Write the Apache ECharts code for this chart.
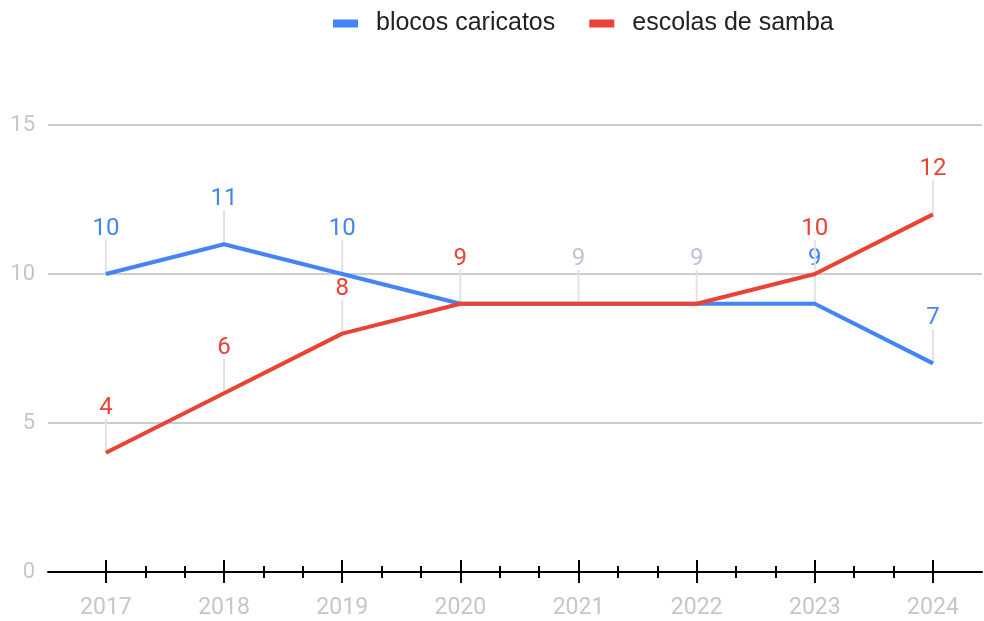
<!DOCTYPE html>
<html>
<head>
<meta charset="utf-8">
<title>blocos caricatos x escolas de samba</title>
<script src="https://cdn.jsdelivr.net/npm/echarts@6/dist/echarts.min.js"></script>
<style>
  html, body { margin: 0; padding: 0; background: #fff; }
  #main { width: 984px; height: 621px; }
</style>
</head>
<body>
<div id="main"></div>
<script>
"use strict";

// dados
var years = [2017, 2018, 2019, 2020, 2021, 2022, 2023, 2024];
var blocos = [10, 11, 10, 9, 9, 9, 9, 7];
var escolas = [4, 6, 8, 9, 9, 9, 10, 12];
var yTicks = [0, 5, 10, 15];
var seriesNames = ['blocos caricatos', 'escolas de samba'];

var BLUE = '#4285F4';
var RED = '#EA4335';
var AXIS_TEXT = '#c6c6c6';
var TIE_TEXT = '#bac4d3';

// pares [ano, valor]
function toPairs(values) {
    var out = [];
    for (var i = 0; i < years.length; i++) {
        out.push([years[i], values[i]]);
    }
    return out;
}

// ticks menores: dois entre cada ano
var minorTicks = [];
for (var i = 0; i < years.length - 1; i++) {
    minorTicks.push(years[i] + 1 / 3);
    minorTicks.push(years[i] + 2 / 3);
}

var xMin = 2016.51;
var xMax = 2024.415;

// anotações (haste + número) por cima de cada ponto
function annotation(color, own, other, isTop) {
    return function (params, api) {
        var idx = params.dataIndex;
        var val = own[idx];
        var tie = other[idx] === val;
        if (tie && !isTop) {
            return null;
        }
        var fill = color;
        if (tie && idx > 0 && other[idx - 1] === own[idx - 1]) {
            fill = TIE_TEXT;
        }
        var p = api.coord([api.value(0), api.value(1)]);
        return {
            type: 'group',
            children: [
                {
                    type: 'line',
                    shape: {x1: p[0], y1: p[1], x2: p[0], y2: p[1] - 34},
                    style: {stroke: '#e2e2e2', lineWidth: 2}
                },
                {
                    type: 'text',
                    x: p[0],
                    y: p[1] - 45,
                    style: {
                        text: String(val),
                        fill: fill,
                        font: '24px Roboto',
                        align: 'center',
                        verticalAlign: 'middle'
                    }
                }
            ]
        };
    };
}

function baseX(extra) {
    var axis = {
        type: 'value',
        position: 'bottom',
        offset: 0,
        min: xMin,
        max: xMax,
        splitLine: {show: false},
        axisLine: {show: false, onZero: false},
        axisLabel: {show: false},
        axisTick: {show: false}
    };
    for (var k in extra) {
        axis[k] = extra[k];
    }
    return axis;
}

var option = {
    animation: false,
    legend: {
        data: seriesNames,
        left: 333,
        top: 11,
        padding: 0,
        itemGap: 34,
        itemWidth: 25,
        itemHeight: 8,
        icon: 'rect',
        textStyle: {
            fontFamily: 'Liberation Sans',
            fontSize: 25,
            color: '#222',
            padding: [0, 0, 0, 13]
        }
    },
    grid: {
        left: 48,
        right: 2,
        top: 125,
        bottom: 49,
        containLabel: false
    },
    xAxis: [
        baseX({
            axisLine: {show: true, onZero: false, lineStyle: {color: '#000', width: 2}},
            axisTick: {show: true, customValues: years, length: 11, lineStyle: {color: '#000', width: 2}},
            axisLabel: {
                show: true,
                customValues: years,
                formatter: function (v) { return String(v); },
                color: AXIS_TEXT,
                fontFamily: 'Roboto',
                fontSize: 23,
                margin: 25
            }
        }),
        baseX({
            axisTick: {show: true, inside: true, customValues: years, length: 12, lineStyle: {color: '#000', width: 2}}
        }),
        baseX({
            axisTick: {show: true, customValues: minorTicks, length: 6, lineStyle: {color: '#000', width: 2}}
        }),
        baseX({
            axisTick: {show: true, inside: true, customValues: minorTicks, length: 6, lineStyle: {color: '#000', width: 2}}
        })
    ],
    yAxis: {
        type: 'value',
        min: yTicks[0],
        max: yTicks[yTicks.length - 1],
        interval: 5,
        axisLine: {show: false},
        axisTick: {show: false},
        axisLabel: {
            color: AXIS_TEXT,
            fontFamily: 'Roboto',
            fontSize: 22,
            margin: 13
        },
        splitLine: {
            lineStyle: {color: '#cccccc', width: 2}
        }
    },
    series: [
        {
            type: 'custom',
            name: 'anot-blocos',
            renderItem: annotation(BLUE, blocos, escolas, false),
            data: toPairs(blocos),
            z: 1,
            silent: true
        },
        {
            type: 'custom',
            name: 'anot-escolas',
            renderItem: annotation(RED, escolas, blocos, true),
            data: toPairs(escolas),
            z: 1,
            silent: true
        },
        {
            name: seriesNames[0],
            type: 'line',
            data: toPairs(blocos),
            color: BLUE,
            showSymbol: false,
            lineStyle: {width: 4, color: BLUE},
            z: 3
        },
        {
            name: seriesNames[1],
            type: 'line',
            data: toPairs(escolas),
            color: RED,
            showSymbol: false,
            lineStyle: {width: 4, color: RED},
            z: 4
        }
    ]
};

var myChart = echarts.init(document.getElementById('main'));
myChart.setOption(option);
</script>
</body>
</html>
